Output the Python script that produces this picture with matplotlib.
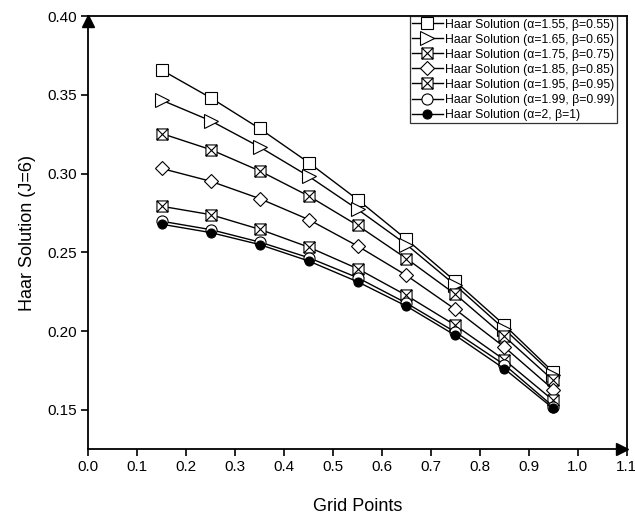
import matplotlib
matplotlib.use("Agg")
import matplotlib.pyplot as plt
from matplotlib.path import Path
from matplotlib.transforms import offset_copy

plt.rcParams["font.family"] = ["Liberation Sans", "DejaVu Sans"]

grid_points = [0.15, 0.25, 0.35, 0.45, 0.55, 0.65, 0.75, 0.85, 0.95]

labels = [
    "Haar Solution (α=1.55, β=0.55)",
    "Haar Solution (α=1.65, β=0.65)",
    "Haar Solution (α=1.75, β=0.75)",
    "Haar Solution (α=1.85, β=0.85)",
    "Haar Solution (α=1.95, β=0.95)",
    "Haar Solution (α=1.99, β=0.99)",
    "Haar Solution (α=2, β=1)",
]

sol_155 = [0.3657, 0.3481, 0.3286, 0.3070, 0.2835, 0.2582, 0.2315, 0.2038, 0.1739]
sol_165 = [0.3466, 0.3335, 0.3169, 0.2983, 0.2773, 0.2549, 0.2290, 0.2012, 0.1722]
sol_175 = [0.3254, 0.3152, 0.3017, 0.2858, 0.2671, 0.2460, 0.2233, 0.1966, 0.1686]
sol_185 = [0.3032, 0.2951, 0.2841, 0.2708, 0.2540, 0.2353, 0.2137, 0.1898, 0.1628]
sol_195 = [0.2792, 0.2739, 0.2646, 0.2533, 0.2396, 0.2226, 0.2036, 0.1817, 0.1559]
sol_199 = [0.2697, 0.2644, 0.2565, 0.2466, 0.2339, 0.2177, 0.1993, 0.1786, 0.1520]
sol_200 = [0.2678, 0.2625, 0.2549, 0.2445, 0.2313, 0.2158, 0.1972, 0.1760, 0.1508]

# square with both diagonals
xbox = Path(
    [(-1, -1), (1, -1), (1, 1), (-1, 1), (-1, -1),
     (-1, -1), (1, 1), (-1, 1), (1, -1)],
    [Path.MOVETO, Path.LINETO, Path.LINETO, Path.LINETO, Path.CLOSEPOLY,
     Path.MOVETO, Path.LINETO, Path.MOVETO, Path.LINETO],
)

series = [sol_155, sol_165, sol_175, sol_185, sol_195, sol_199, sol_200]
markers = ["s", ">", xbox, "D", xbox, "o", "o"]
sizes = [8, 9.5, 8, 7.5, 8, 8, 6.5]
faces = ["white"] * 6 + ["black"]

fig = plt.figure(figsize=(6.35, 5.18), dpi=100)
ax = fig.add_axes([0.139, 0.133, 0.848, 0.836])

for ys, lab, m, ms, fc in zip(series, labels, markers, sizes, faces):
    ax.plot(grid_points, ys, color="black", lw=1.0, marker=m, markersize=ms,
            markerfacecolor=fc, markeredgecolor="black", markeredgewidth=0.8,
            label=lab)

ax.set_xlim(0.0, 1.1)
ax.set_ylim(0.125, 0.40)
ax.set_xticks([i / 10 for i in range(12)])
ax.set_yticks([0.15, 0.20, 0.25, 0.30, 0.35, 0.40])
ax.xaxis.set_major_formatter(plt.FormatStrFormatter("%.1f"))
ax.yaxis.set_major_formatter(plt.FormatStrFormatter("%.2f"))
ax.tick_params(direction="out", length=5, width=1.2, labelsize=11, pad=3)
for sp in ax.spines.values():
    sp.set_linewidth(1.3)

ax.set_xlabel("Grid Points", fontsize=13, labelpad=17)
ax.set_ylabel("Haar Solution (J=6)", fontsize=13, labelpad=8)

# arrow heads on the axes, tips sitting on the corners
up = offset_copy(ax.transAxes, fig=fig, y=-5, units="dots")
right = offset_copy(ax.transAxes, fig=fig, x=-5, units="dots")
ax.plot([0], [1], marker="^", color="black", markersize=8,
        transform=up, clip_on=False)
ax.plot([1], [0], marker=">", color="black", markersize=8,
        transform=right, clip_on=False)

leg = ax.legend(loc="upper right", bbox_to_anchor=(0.982, 1.0), fontsize=8.8,
                frameon=True, fancybox=False, edgecolor="black",
                handlelength=2.5, handletextpad=0.2, labelspacing=0.25,
                borderpad=0.2, borderaxespad=0.0)
leg.get_frame().set_linewidth(0.9)

fig.savefig("out.png", dpi=100)
